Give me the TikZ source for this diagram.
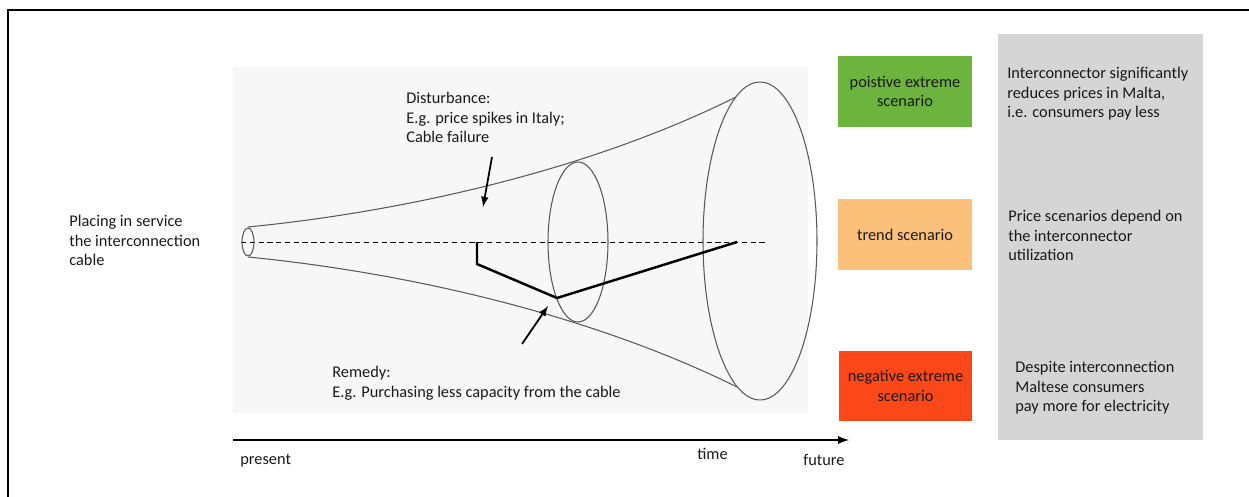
\documentclass[tikz,border=0pt]{standalone}
\usepackage{fontspec}
\setmainfont{Carlito}
\usepackage{xcolor}
\usetikzlibrary{calc}

\definecolor{panelgrey}{RGB}{247,247,247}
\definecolor{sidegrey}{RGB}{213,213,213}
\definecolor{posgreen}{RGB}{108,180,62}
\definecolor{trendorange}{RGB}{251,192,122}
\definecolor{negred}{RGB}{252,72,24}

\begin{document}
\begin{tikzpicture}[>=latex, x=0.02cm, y=-0.02cm,
		every node/.style={font=\fontsize{9.3}{11.1}\selectfont, text=black!90},
		note/.style={anchor=north west, align=left, inner sep=0pt},
		scenario/.style={minimum width=2.68cm, minimum height=1.42cm, align=center, inner sep=2pt},
		cone/.style={draw=black!65, line width=0.6pt}]
		\useasboundingbox (0,0) rectangle (1249,497);
		% frame
		\draw[line width=0.8pt] (8,497) -- (8,10) -- (1249,10);

		% cone
		\fill[panelgrey] (233,67) rectangle (808,413);
		\draw[dash pattern=on 3pt off 2pt, line width=0.5pt] (241,242) -- (765,242);
		\draw[cone] (248,242) ellipse [x radius=0.12cm, y radius=0.28cm];
		\draw[cone] (578,242) ellipse [x radius=0.6cm, y radius=1.6cm];
		\draw[cone] (760,241) ellipse [x radius=1.14cm, y radius=3.18cm];
		\draw[cone] (248,227) .. controls (420,210) and (600,165) .. (736,97);
		\draw[cone] (248,257) .. controls (420,274) and (600,319) .. (737,387);

		% path through the cone
		\coordinate (p1) at (477,242);
		\coordinate (p2) at (477,264);
		\coordinate (p3) at (557,298);
		\coordinate (p4) at (737,242);
		\draw[line width=1.4pt] (p1) -- (p2) -- (p3) -- (p4);

		% Disturbance
		\node[note] at (406,92) (dist) {Disturbance:\\E.g. price spikes in Italy;\\Cable failure};
		\coordinate (d1) at (492,157);
		\coordinate (d2) at (483,207);
		\draw[->, line width=1pt] (d1) -- (d2);

		% Remedy
		\node[note] at (332,366) (rem) {Remedy:\\E.g. Purchasing less capacity from the cable};
		\coordinate (r1) at (522,344);
		\coordinate (r2) at (548,306);
		\draw[->, line width=1pt] (r1) -- (r2);

		\node[note] at (69,215) (start) {Placing in service\\the interconnection\\cable};

		% time axis
		\coordinate (a1) at (233,440);
		\coordinate (a2) at (849,440);
		\draw[->, line width=1.2pt] (a1) -- (a2);
		\node[note] at (240,454) (present) {present};
		\node[note] at (697,448) (time) {time};
		\node[note] at (803,454) (future) {future};

		% scenarios
		\node[scenario, fill=posgreen] at (905,91.5) (pos) {poistive extreme\\scenario};
		\node[scenario, fill=trendorange] at (905,234.5) (trend) {trend scenario};
		\node[scenario, fill=negred] at (905.5,386) (neg) {negative extreme\\scenario};

		% explanations
		\fill[sidegrey] (998,34) rectangle (1203,440);
		\node[note] at (1007,67) (posx) {Interconnector significantly\\reduces prices in Malta,\\i.e. consumers pay less};
		\node[note] at (1008,210) (trendx) {Price scenarios depend on\\the interconnector\\utilization};
		\node[note] at (1015,361) (negx) {Despite interconnection\\Maltese consumers\\pay more for electricity};
	\end{tikzpicture}
\end{document}
